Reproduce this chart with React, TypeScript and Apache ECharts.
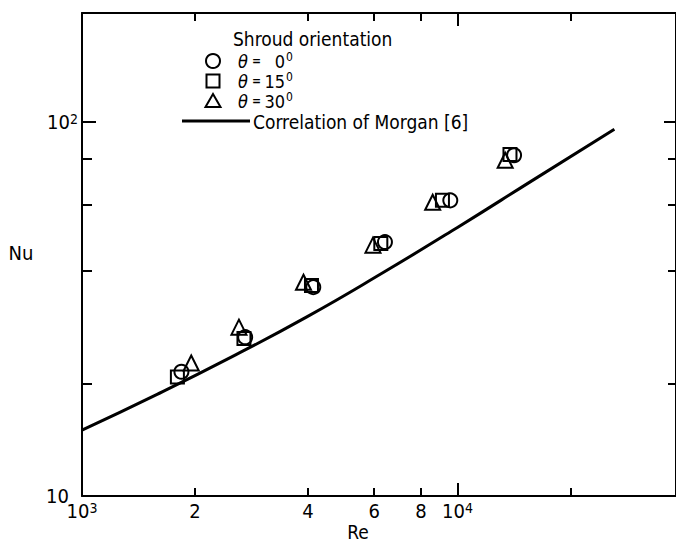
import React, { useEffect, useRef } from 'react';
import * as echarts from 'echarts';

// ---- data ----
const reTheta0 = [1840, 2720, 4130, 6410, 9570, 14150];
const nuTheta0 = [21.5, 26.6, 36.2, 47.8, 61.8, 81.6];
const reTheta15 = [1795, 2700, 4085, 6250, 9120, 13800];
const nuTheta15 = [20.8, 26.4, 36.6, 47.4, 61.8, 82.0];
const reTheta30 = [1954, 2618, 3890, 5956, 8590, 13400];
const nuTheta30 = [22.7, 28.3, 37.3, 46.9, 61.1, 79.1];
const reMorgan = [1000, 1585, 2512, 3981, 6310, 10000, 15850, 26180];
const nuMorgan = [15.0, 18.7, 23.6, 30.2, 39.5, 52.3, 69.9, 95.8];

const xMajorTicks = [1000, 10000];
const xMinorTicks = [2000, 4000, 6000, 8000, 20000];
const xLabelValues = [1000, 2000, 4000, 6000, 8000, 10000];
const yMajorTicks = [10, 100];
const yMinorTicks = [20, 40, 60, 80];
const yLabelValues = [10, 100];
const xRange = [1000, 38200];
const yRange = [10, 196];

const legendTitle = 'Shroud orientation';
const legendAngles = ['0', '15', '30'];
const morganLabel = 'Correlation of Morgan [6]';
const xName = 'Re';
const yName = 'Nu';

const FONT = "'Liberation Sans Narrow', 'DejaVu Sans Condensed', 'Arial Narrow', sans-serif";
const L = (v: number) => Math.log10(v);
const pairs = (xs: number[], ys: number[]) => xs.map((x, i) => [L(x), L(ys[i])]);

const rich = {
  b: { fontSize: 20, fontFamily: FONT, color: '#000', lineHeight: 20, verticalAlign: 'bottom' },
  s: { fontSize: 14, fontFamily: FONT, color: '#000', lineHeight: 12, verticalAlign: 'top' },
  p: { fontSize: 14, width: 9, lineHeight: 12 },
};

const xFmt = (v: number) => {
  const e = Math.round(v);
  if (Math.abs(v - e) < 1e-6) return `{b|10}{s|${e}}`;
  const m = Math.round(Math.pow(10, v - Math.floor(v + 1e-9)));
  return `{b|${m}}`;
};
const yFmt = (v: number) => {
  const e = Math.round(v);
  if (e === 1) return '{b|10}{p| }';
  return `{b|10}{s|${e}}`;
};

const lineStyle = { color: '#000', width: 2 };

function axis(dim: 'x' | 'y', pos: string, gridIndex: number, ticks: number[], len: number, showLine: boolean, labels?: number[]) {
  const range = dim === 'x' ? xRange : yRange;
  return {
    type: 'value',
    gridIndex,
    position: pos,
    min: L(range[0]),
    max: L(range[1]),
    axisLine: { show: showLine, lineStyle },
    axisTick: { show: true, inside: true, length: len, lineStyle, customValues: ticks.map(L) },
    axisLabel: labels
      ? {
          show: true,
          customValues: labels.map(L),
          formatter: dim === 'x' ? xFmt : yFmt,
          rich,
          margin: dim === 'x' ? 5 : 4,
        }
      : { show: false },
    splitLine: { show: false },
  };
}

const gridBox = { left: 82, top: 13, right: -4, bottom: 46 };
const markerStyle = { color: 'rgba(0,0,0,0)', borderColor: '#000', borderWidth: 2, opacity: 1 };

const option = {
  animation: false,
  backgroundColor: '#fff',
  grid: [gridBox, gridBox],
  xAxis: [
    axis('x', 'bottom', 0, xMajorTicks, 13, true, xLabelValues),
    axis('x', 'top', 0, xMajorTicks, 13, true),
    axis('x', 'bottom', 1, xMinorTicks, 8, false),
    axis('x', 'top', 1, xMinorTicks, 8, false),
  ],
  yAxis: [
    axis('y', 'left', 0, yMajorTicks, 14, true, yLabelValues),
    axis('y', 'right', 0, yMajorTicks, 12, true),
    axis('y', 'left', 1, yMinorTicks, 10, false),
    axis('y', 'right', 1, yMinorTicks, 8, false),
  ],
  series: [
    {
      type: 'line',
      name: morganLabel,
      data: pairs(reMorgan, nuMorgan),
      xAxisIndex: 0,
      yAxisIndex: 0,
      showSymbol: false,
      symbol: 'none',
      smooth: true,
      lineStyle: { color: '#000', width: 3 },
    },
    {
      type: 'scatter',
      name: 'theta0',
      data: pairs(reTheta0, nuTheta0),
      symbol: 'circle',
      symbolSize: 14,
      itemStyle: markerStyle,
    },
    {
      type: 'scatter',
      name: 'theta15',
      data: pairs(reTheta15, nuTheta15),
      symbol: 'rect',
      symbolSize: 13,
      itemStyle: markerStyle,
    },
    {
      type: 'scatter',
      name: 'theta30',
      data: pairs(reTheta30, nuTheta30),
      symbol: 'triangle',
      symbolSize: 15,
      itemStyle: markerStyle,
    },
  ],
  graphic: [
    { type: 'text', x: 233, y: 39, style: { text: legendTitle, font: `19px ${FONT}`, fill: '#000', verticalAlign: 'middle' } },
    { type: 'circle', shape: { cx: 213, cy: 61, r: 7 }, style: { fill: 'none', stroke: '#000', lineWidth: 2 } },
    { type: 'rect', shape: { x: 206.5, y: 74.5, width: 13, height: 13 }, style: { fill: 'none', stroke: '#000', lineWidth: 2 } },
    { type: 'polygon', shape: { points: [[213, 94], [205.5, 107], [220.5, 107]] }, style: { fill: 'none', stroke: '#000', lineWidth: 2 } },
    { type: 'line', shape: { x1: 182, y1: 121, x2: 250, y2: 121 }, style: { stroke: '#000', lineWidth: 3 } },
    { type: 'text', x: 253, y: 122, style: { text: morganLabel, font: `19px ${FONT}`, fill: '#000', verticalAlign: 'middle' } },
    ...legendAngles.flatMap((a, i) => {
      const y = 61 + i * 20;
      return [
        { type: 'text', x: 238, y, style: { text: 'θ', font: `italic 18px ${FONT}`, fill: '#000', verticalAlign: 'middle' } },
        { type: 'text', x: 252, y, style: { text: '=', font: `bold 12px ${FONT}`, fill: '#000', verticalAlign: 'middle' } },
        { type: 'text', x: 285, y, style: { text: a, font: `18px ${FONT}`, fill: '#000', verticalAlign: 'middle', align: 'right' } },
        { type: 'text', x: 286, y: y - 4, style: { text: '0', font: `12px ${FONT}`, fill: '#000', verticalAlign: 'middle' } },
      ];
    }),
    { type: 'text', x: 21, y: 253, style: { text: yName, font: `20px ${FONT}`, fill: '#000', align: 'center', verticalAlign: 'middle' } },
    { type: 'text', x: 358, y: 532, style: { text: xName, font: `19px ${FONT}`, fill: '#000', align: 'center', verticalAlign: 'middle' } },
  ],
};

export default function App() {
  const ref = useRef<HTMLDivElement>(null);
  useEffect(() => {
    const chart = echarts.init(ref.current as HTMLDivElement, null, { renderer: 'svg' });
    chart.setOption(option as any);
    return () => chart.dispose();
  }, []);
  return (
    <div
      ref={ref}
      style={{ position: 'fixed', left: 0, top: 0, width: 676, height: 542, background: '#fff' }}
    />
  );
}
